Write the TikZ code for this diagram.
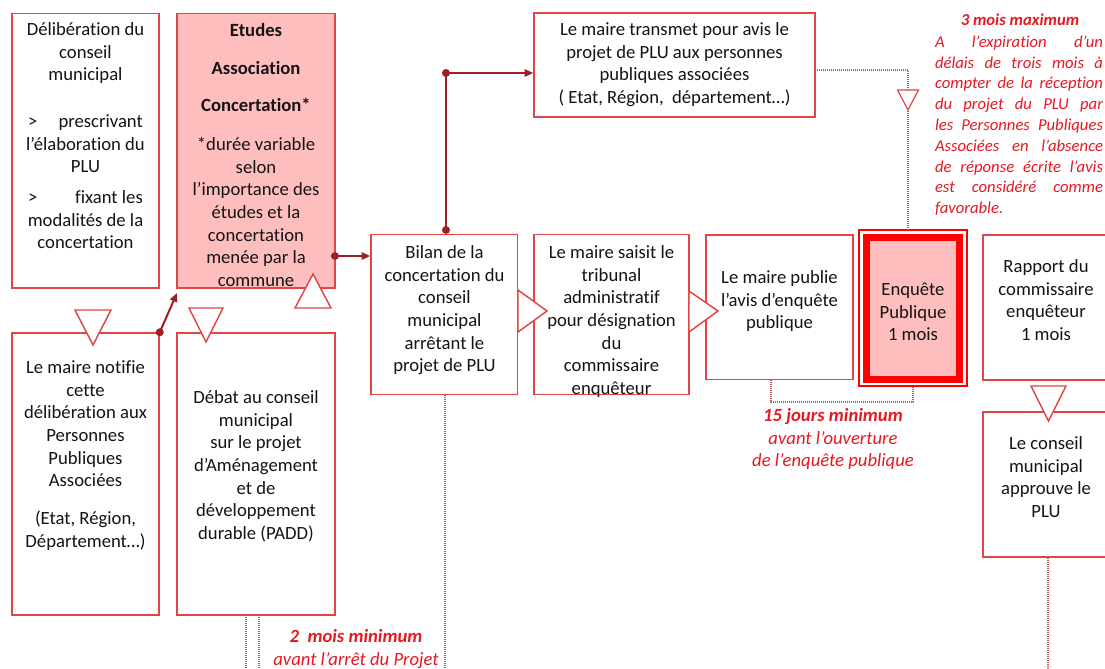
\documentclass[tikz,border=0pt]{standalone}
\usepackage{fontspec}
\setmainfont{Carlito}[Ligatures={NoCommon,NoContextual}]
\usetikzlibrary{arrows.meta,fit}
\definecolor{boxred}{RGB}{225,70,70}
\definecolor{conred}{RGB}{160,30,35}
\definecolor{pinkf}{RGB}{255,190,190}
\definecolor{annored}{RGB}{230,25,35}
\definecolor{dotred}{RGB}{190,90,90}
\definecolor{txtc}{RGB}{20,20,20}
\tikzset{
 box/.style={draw=boxred, line width=1.1pt, fill=white},
 tri/.style={draw=boxred, line width=1.1pt, fill=white, line join=miter},
 conn/.style={draw=conred, line width=1.5pt, -{Triangle[length=6.5pt,width=5.5pt]}},
 jdot/.style={circle, fill=conred, inner sep=0pt, minimum size=6pt},
 dotline/.style={draw=dotred, line width=0.8pt, dash pattern=on 0.6pt off 0.9pt},
 txt/.style={text=txtc, font=\fontsize{14}{17}\selectfont, align=center, inner sep=0pt, anchor=north},
 anno/.style={text=annored, font=\fontsize{14}{17}\selectfont\itshape, align=center, inner sep=0pt, anchor=north},
}
\newcommand\mkbox[6]{%
 \coordinate (#1-nw) at (#2,#3); \coordinate (#1-se) at (#4,#5);
 \node[#6, fit=(#1-nw)(#1-se), inner sep=0pt] (#1) {};}
\begin{document}
\begin{tikzpicture}[x=0.75pt,y=-0.75pt]
\useasboundingbox (0,0) rectangle (1105,668);
\fill[white] (0,0) rectangle (1105,668);

% boxes
\mkbox{A}{12}{13.5}{159}{288}{box}
\mkbox{B}{177}{13.5}{335}{288}{box, fill=pinkf}
\mkbox{C}{12}{333}{159}{615}{box}
\mkbox{D}{177}{333}{335}{615}{box}
\mkbox{E}{371}{234.5}{517.5}{394.5}{box}
\mkbox{F}{534}{234.5}{689}{394.5}{box}
\mkbox{G}{706}{235}{853}{379.5}{box}
\mkbox{I}{983}{235}{1113}{380}{box}
\mkbox{J}{983}{412}{1113}{557}{box}
\mkbox{K}{534}{13}{815}{117}{box}
\mkbox{Ho}{859}{230}{967}{386}{draw=red, line width=1.2pt, fill=white}
\mkbox{H}{866.5}{237.5}{959.5}{379.5}{draw=red, line width=5.25pt, fill=pinkf}

% dotted lines
\coordinate (ke) at (815,70);
\coordinate (hn) at (908,230);
\draw[dotline] (ke) -| (hn);
\coordinate (gb) at (771,380);
\draw[dotline] (gb) -- ++(0,22) -| (Ho.south);
\coordinate (d1) at (246,615);
\coordinate (d2) at (259,615);
\coordinate (eb) at (445,395);
\draw[dotline] (d1) -- ++(0,60);
\draw[dotline] (d2) -- ++(0,60);
\draw[dotline] (eb) -- ++(0,280);
\draw[dotline] (J.south) -- ++(0,120);

% texts
\node[txt] (tA) at (85.5,19.5) {\strut Délibération du\\conseil\\municipal\\[18pt]\makebox[86pt]{>\hfill prescrivant}\\l’élaboration du\\PLU\\[6pt]\makebox[86pt]{>\hfill fixant les}\\modalités de la\\concertation};
\node[txt] (tB) at (256,20.5) {\strut\textbf{Etudes}\\[11.5pt]\textbf{Association}\\[11pt]\textbf{Concertation*}\\[12pt]*durée variable\\selon\\l’importance des\\études et la\\concertation\\menée par la\\commune};
\node[txt] (tC) at (85.5,357.5) {\strut Le maire notifie\\cette\\délibération aux\\Personnes\\Publiques\\Associées\\[11.25pt](Etat, Région,\\Département…)};
\node[txt] (tD) at (256,387.5) {\strut Débat au conseil\\municipal\\sur le projet\\d’Aménagement\\et de\\développement\\durable (PADD)};
\node[txt] (tE) at (444.5,242.5) {\strut Bilan de la\\concertation du\\conseil\\municipal\\arrêtant le\\projet de PLU};
\node[txt] (tF) at (611.5,242.5) {\strut Le maire saisit le\\tribunal\\administratif\\pour désignation\\du\\commissaire\\enquêteur};
\node[txt] (tG) at (779.5,267.5) {\strut Le maire publie\\l’avis d’enquête\\publique};
\node[txt] (tH) at (913,279.5) {\strut Enquête\\Publique\\1 mois};
\node[txt] (tI) at (1046,256.5) {\strut Rapport du\\commissaire\\enquêteur\\1 mois};
\node[txt] (tJ) at (1046,433.5) {\strut Le conseil\\municipal\\approuve le\\PLU};
\node[txt] (tK) at (674.5,19.5) {\strut Le maire transmet pour avis le\\projet de PLU aux personnes\\publiques associées\\( Etat, Région,~ département…)};

% annotations
\node[anno, font=\fontsize{12.5}{15.6}\selectfont\bfseries\itshape] (a3) at (1020,10.4) {\strut 3 mois maximum};
\node[anno, align=left, font=\fontsize{12.5}{15.6}\selectfont\itshape] (para) at (1019,32.4) {\strut\makebox[126pt][s]{A l’expiration d’un}\\\makebox[126pt][s]{délais de trois mois à}\\\makebox[126pt][s]{compter de la réception}\\\makebox[126pt][s]{du projet du PLU par}\\\makebox[126pt][s]{les Personnes Publiques}\\\makebox[126pt][s]{Associées en l’absence}\\\makebox[126pt][s]{de réponse écrite l’avis}\\\makebox[126pt][s]{est considéré comme}\\\makebox[126pt][l]{favorable.}};
\node[anno] (a15) at (833,405.5) {\strut\textbf{15 jours minimum}\\avant l’ouverture\\de l’enquête publique};
\node[anno] (a2) at (356,626.5) {\strut\textbf{2~~mois minimum}\\avant l’arrêt du Projet};

% connectors
\coordinate (b1) at (335,256);
\draw[conn] (b1) -- (E.west |- b1);
\node[jdot] (p1) at (b1) {};
\coordinate (e1) at (446,230);
\coordinate (e2) at (446,73);
\draw[conn] (e1) -- (e2) -- (K.west |- e2);
\node[jdot] (p2) at (e1) {};
\node[jdot] (p3) at (e2) {};
\coordinate (c2) at (177,293);
\draw[conn] (C.north east) -- (c2);
\node[jdot] (p4) at (C.north east) {};

% triangles
\draw[tri] (75,310) -- (111,310) -- (93,345) -- cycle;
\draw[tri] (189,308) -- (223,308) -- (206,342) -- cycle;
\draw[tri] (295,308) -- (331,308) -- (313,274) -- cycle;
\draw[tri] (518,290) -- (518,332) -- (547,311) -- cycle;
\draw[tri] (689,291) -- (689,332) -- (718,311) -- cycle;
\draw[tri, line width=0.9pt] (897.5,90) -- (918.5,90) -- (908,110) -- cycle;
\draw[tri] (1031,386) -- (1066,386) -- (1048.5,421) -- cycle;
\end{tikzpicture}
\end{document}
